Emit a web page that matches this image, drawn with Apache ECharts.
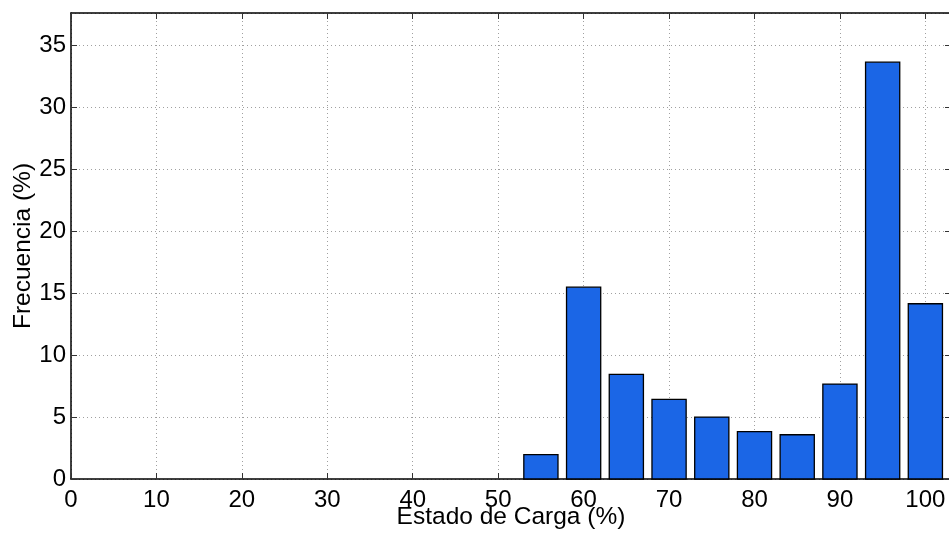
<!DOCTYPE html>
<html>
<head>
<meta charset="utf-8">
<script src="https://cdn.jsdelivr.net/npm/echarts@6/dist/echarts.min.js"></script>
<style>html,body{margin:0;padding:0;background:#fff;}#c{width:949px;height:533px;}</style>
</head>
<body>
<div id="c"></div>
<script>
const binCenters = [55, 60, 65, 70, 75, 80, 85, 90, 95, 100];
const frequencies = [1.96, 15.48, 8.44, 6.43, 5.0, 3.82, 3.57, 7.66, 33.63, 14.14];
const binWidth = 4;
const xTicks = [0, 10, 20, 30, 40, 50, 60, 70, 80, 90, 100];
const yTicks = [0, 5, 10, 15, 20, 25, 30, 35];
const xName = 'Estado de Carga (%)';
const yName = 'Frecuencia (%)';

const FONT = 'Liberation Sans, Arial, Helvetica, sans-serif';
const chart = echarts.init(document.getElementById('c'), null, {renderer: 'canvas'});
const data = binCenters.map((x, i) => [x, frequencies[i]]);

const gridLine = {show: true, lineStyle: {color: '#a0a0a0', type: [1, 3], width: 1}};
const tick = {show: true, inside: true, length: 6, lineStyle: {color: '#333', width: 1}};
const axLine = {show: true, onZero: false, lineStyle: {color: '#000', width: 1.5}};

chart.setOption({
  animation: false,
  backgroundColor: '#fff',
  grid: {left: 71, top: 13, width: 880, height: 466, containLabel: false, outerBoundsMode: 'none'},
  xAxis: [{
    type: 'value', min: 0, max: 103, interval: 10,
    position: 'bottom',
    name: xName, nameLocation: 'middle', nameGap: 26, nameMoveOverlap: false,
    nameTextStyle: {fontFamily: FONT, fontSize: 24.5, color: '#000'},
    axisLine: axLine, axisTick: tick,
    splitLine: gridLine,
    axisLabel: {fontFamily: FONT, fontSize: 24, color: '#000', margin: 9, showMaxLabel: false,
      formatter: v => xTicks.indexOf(v) >= 0 ? String(v) : ''}
  }, {
    type: 'value', min: 0, max: 103, interval: 10,
    position: 'top',
    axisLine: axLine, axisTick: tick,
    splitLine: {show: false}, axisLabel: {show: false}
  }],
  yAxis: [{
    type: 'value', min: 0, max: 37.6, interval: 5,
    position: 'left',
    name: yName, nameLocation: 'middle', nameGap: 35, nameRotate: 90, nameMoveOverlap: false,
    nameTextStyle: {fontFamily: FONT, fontSize: 24.5, color: '#000'},
    axisLine: axLine, axisTick: tick,
    splitLine: gridLine,
    axisLabel: {fontFamily: FONT, fontSize: 24, color: '#000', margin: 5, showMaxLabel: false,
      formatter: v => yTicks.indexOf(v) >= 0 ? String(v) : ''}
  }, {
    type: 'value', min: 0, max: 37.6, interval: 5,
    position: 'right',
    axisLine: axLine, axisTick: tick,
    splitLine: {show: false}, axisLabel: {show: false}
  }],
  series: [{
    type: 'custom',
    xAxisIndex: 0, yAxisIndex: 0,
    data: data,
    renderItem: function (params, api) {
      const x = api.value(0), y = api.value(1);
      const p1 = api.coord([x - binWidth / 2, y]);
      const p2 = api.coord([x + binWidth / 2, 0]);
      return {
        type: 'rect',
        shape: {x: p1[0], y: p1[1], width: p2[0] - p1[0], height: p2[1] - p1[1]},
        style: {fill: '#1b66e6', stroke: '#000', lineWidth: 1.3}
      };
    },
    z: 3
  }]
});
</script>
</body>
</html>
